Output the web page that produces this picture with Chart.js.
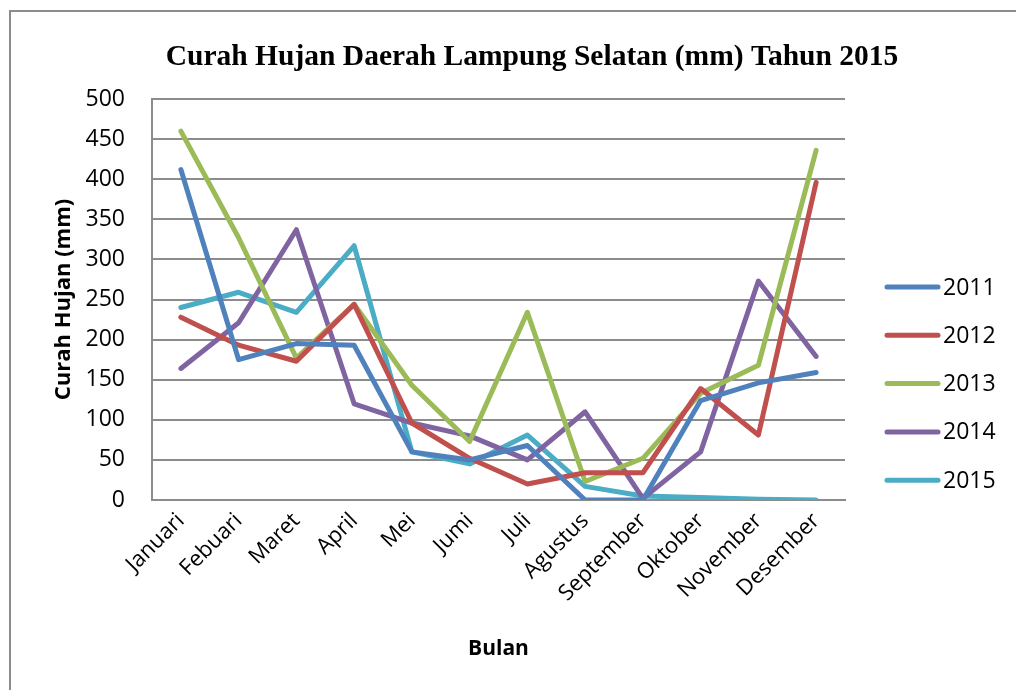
<!DOCTYPE html>
<html>
<head>
<meta charset="utf-8">
<script src="https://cdn.jsdelivr.net/npm/chart.js@4.4.0/dist/chart.umd.min.js"></script>
<style>
    html, body { margin: 0; padding: 0; background: #ffffff; }
    #wrap { width: 1016px; height: 690px; position: relative; }
</style>
</head>
<body>
<div id="wrap"><canvas id="rainChart" width="1016" height="690"></canvas></div>
<script>
const months = ['Januari', 'Febuari', 'Maret', 'April', 'Mei', 'Jumi', 'Juli',
    'Agustus', 'September', 'Oktober', 'November', 'Desember'];
const yTicks = [0, 50, 100, 150, 200, 250, 300, 350, 400, 450, 500];

const rain2011 = [412, 175, 195, 193, 60, 50, 68, 0, 0, 124, 146, 159];
const rain2012 = [228, 193, 173, 244, 96, 52, 20, 34, 34, 139, 81, 396];
const rain2013 = [460, 327, 177, 244, 143, 73, 234, 23, 52, 133, 168, 436];
const rain2014 = [164, 221, 337, 120, 96, 80, 50, 110, 2, 60, 273, 179];
const rain2015 = [240, 259, 234, 317, 60, 45, 81, 17, 5, 3, 1, 0];

const seriesNames = ['2011', '2012', '2013', '2014', '2015'];
const seriesData = [rain2011, rain2012, rain2013, rain2014, rain2015];
const colors = ['#4f81bd', '#c0504d', '#9bbb59', '#8064a2', '#4bacc6'];

const gridGray = '#8c8c8c';
const fontSans = '"Open Sans", "Liberation Sans", sans-serif';

// frame, title and legend drawn by hand like the office chart
const decorPlugin = {
    id: 'decor',
    beforeDraw(chart) {
        const ctx = chart.ctx;
        ctx.save();
        ctx.fillStyle = '#ffffff';
        ctx.fillRect(0, 0, chart.width, chart.height);
        ctx.strokeStyle = '#8c8c8c';
        ctx.lineWidth = 2;
        ctx.strokeRect(10, 11, chart.width + 20, chart.height + 20);
        ctx.restore();
    },
    afterDraw(chart) {
        const ctx = chart.ctx;
        ctx.save();
        ctx.fillStyle = '#000000';
        ctx.font = 'bold 29.5px "Liberation Serif", "Times New Roman", serif';
        ctx.textAlign = 'center';
        ctx.textBaseline = 'middle';
        ctx.fillText('Curah Hujan Daerah Lampung Selatan (mm) Tahun 2015', 532, 57);

        const x0 = 885, lineLen = 55, top = 287, step = 48.3;
        ctx.font = '23px ' + fontSans;
        ctx.textAlign = 'left';
        chart.data.datasets.forEach((ds, i) => {
            const y = top + i * step;
            ctx.strokeStyle = ds.borderColor;
            ctx.lineWidth = 5;
            ctx.lineCap = 'round';
            ctx.beginPath();
            ctx.moveTo(x0 + 2, y);
            ctx.lineTo(x0 + lineLen - 2, y);
            ctx.stroke();
            ctx.fillStyle = '#000000';
            ctx.fillText(ds.label, x0 + lineLen + 3, y + 1);
        });
        ctx.restore();
    }
};

const datasets = seriesNames.map((name, i) => ({
    label: name,
    data: seriesData[i],
    borderColor: colors[i],
    backgroundColor: colors[i],
    borderWidth: 5,
    borderJoinStyle: 'round',
    borderCapStyle: 'round',
    pointRadius: 0,
    tension: 0,
    fill: false
}));

new Chart(document.getElementById('rainChart'), {
    type: 'line',
    data: { labels: months, datasets: datasets },
    options: {
        responsive: false,
        animation: false,
        events: [],
        layout: { padding: { top: 99, right: 171, bottom: 10, left: 15 } },
        plugins: {
            legend: { display: false },
            title: { display: false },
            tooltip: { enabled: false }
        },
        scales: {
            x: {
                offset: true,
                afterFit: s => { s.height = 180; },
                grid: { display: false, drawTicks: false },
                border: { color: gridGray, width: 2 },
                ticks: {
                    color: '#000000',
                    font: { family: fontSans, size: 22 },
                    maxRotation: 45,
                    minRotation: 45,
                    padding: 8,
                    autoSkip: false
                },
                title: {
                    display: true,
                    text: 'Bulan',
                    color: '#000000',
                    font: { family: fontSans, size: 21, weight: 'bold' },
                    padding: { top: 18, bottom: 18 }
                }
            },
            y: {
                min: 0,
                max: 500,
                afterFit: s => { s.width = 137; },
                afterBuildTicks: s => { s.ticks = yTicks.map(v => ({ value: v })); },
                grid: { color: gridGray, lineWidth: 2, drawTicks: false },
                border: { color: gridGray, width: 2 },
                ticks: {
                    color: '#000000',
                    font: { family: fontSans, size: 23 },
                    padding: 27
                },
                title: {
                    display: true,
                    text: 'Curah Hujan (mm)',
                    color: '#000000',
                    font: { family: fontSans, size: 22, weight: 'bold' },
                    padding: { top: 36, bottom: 36 }
                }
            }
        }
    },
    plugins: [decorPlugin]
});
</script>
</body>
</html>
